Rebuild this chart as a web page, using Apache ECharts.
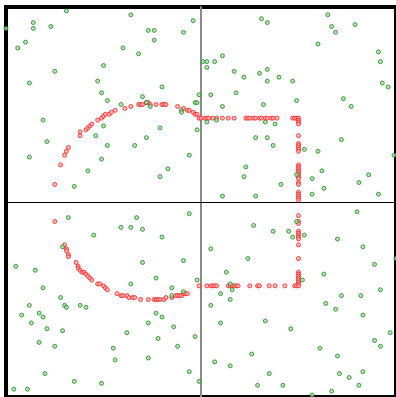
<!DOCTYPE html>
<html>
<head>
<meta charset="utf-8">
<script src="https://cdn.jsdelivr.net/npm/echarts@6/dist/echarts.min.js"></script>
<style>
  html, body { margin: 0; padding: 0; background: #ffffff; }
  #chart { width: 396px; height: 397px; }
</style>
</head>
<body>
<div id="chart"></div>
<script>
// Scattered background samples (green class)
const greenPoints = [
  [-0.69,0.98],[-0.36,0.96],[-1.00,0.89],[-0.86,0.92],[-0.86,0.89],[-0.77,0.90],[-0.04,0.93],
  [-0.27,0.88],[-0.24,0.88],[-0.09,0.87],[-0.90,0.82],[-0.94,0.79],[-0.24,0.83],[-0.40,0.79],
  [-0.32,0.76],[-0.75,0.67],[-0.50,0.70],[-0.88,0.61],[-0.53,0.62],[-0.20,0.59],[-0.51,0.56],
  [-0.48,0.52],[-0.30,0.54],[-0.28,0.51],[-0.41,0.50],[-0.26,0.49],[-0.03,0.51],[-0.02,0.51],
  [-0.10,0.47],[-0.10,0.46],[-0.81,0.42],[-0.50,0.39],[-0.21,0.38],[-0.02,0.37],[-0.79,0.31],
  [-0.54,0.34],[-0.28,0.33],[-0.48,0.29],[-0.34,0.29],[-0.88,0.23],[-0.06,0.24],[-0.51,0.22],
  [-0.17,0.17],[-0.58,0.16],[-0.21,0.13],[-0.65,0.08],
  [0.31,0.94],[0.34,0.92],[0.65,0.96],[0.79,0.91],[0.67,0.90],[0.69,0.87],[0.60,0.81],
  [0.11,0.75],[0.01,0.72],[0.03,0.72],[0.07,0.72],[0.03,0.69],[0.91,0.77],[0.92,0.72],
  [0.17,0.67],[0.30,0.66],[0.34,0.68],[0.34,0.62],[0.22,0.64],[0.40,0.64],[0.47,0.62],
  [0.93,0.61],[0.96,0.59],[-0.01,0.55],[0.05,0.55],[0.18,0.56],[0.11,0.49],[0.32,0.50],
  [0.49,0.52],[0.73,0.53],[0.77,0.49],[0.03,0.41],[0.08,0.42],[0.33,0.41],[0.38,0.40],
  [0.28,0.33],[0.34,0.33],[0.37,0.29],[0.72,0.32],[0.53,0.27],[0.60,0.26],[0.99,0.24],
  [0.23,0.18],[0.22,0.13],[0.62,0.16],[0.86,0.14],[0.57,0.12],[0.41,0.09],[0.49,0.14],
  [0.63,0.07],[0.81,0.10],[0.11,0.03],[0.28,0.03],[0.57,0.04],[0.91,0.04],
  [0.80,-0.05],[0.27,-0.12],[0.37,-0.15],[0.45,-0.15],[0.49,-0.10],[0.47,-0.18],[0.53,-0.17],
  [0.70,-0.19],[0.83,-0.23],[0.05,-0.24],[0.24,-0.29],[0.89,-0.32],[1.00,-0.29],[0.13,-0.36],
  [-0.02,-0.40],[0.63,-0.37],[0.52,-0.40],[0.15,-0.42],[0.16,-0.45],[0.92,-0.45],[0.10,-0.47],
  [0.72,-0.48],[0.82,-0.48],[0.15,-0.50],[0.05,-0.53],[0.64,-0.52],[0.69,-0.55],[0.83,-0.58],
  [0.10,-0.62],[0.33,-0.61],[0.46,-0.65],[0.97,-0.67],[-0.03,-0.69],[0.89,-0.71],[0.92,-0.74],
  [0.26,-0.78],[0.61,-0.75],[0.70,-0.79],[0.07,-0.82],[0.15,-0.84],[0.83,-0.87],[0.71,-0.88],
  [0.35,-0.88],[0.76,-0.90],[-0.01,-0.92],[0.29,-0.94],[0.42,-0.94],[0.81,-0.94],[0.67,-0.97],
  [0.57,-0.99],
  [-0.06,-0.06],[-0.68,-0.08],[-0.33,-0.08],[-0.41,-0.13],[-0.36,-0.13],[-0.30,-0.14],[-0.20,-0.18],
  [-0.55,-0.17],[-0.71,-0.23],[-0.95,-0.33],[-0.85,-0.35],[-0.30,-0.31],[-0.09,-0.30],[-0.23,-0.39],
  [-0.81,-0.44],[-0.36,-0.42],[-0.15,-0.44],[-0.15,-0.48],[-0.09,-0.46],[-0.72,-0.49],[-0.70,-0.53],
  [-0.69,-0.54],[-0.62,-0.53],[-0.59,-0.54],[-0.88,-0.53],[-0.92,-0.58],[-0.83,-0.57],[-0.81,-0.59],
  [-0.87,-0.62],[-0.23,-0.57],[-0.20,-0.59],[-0.27,-0.62],[-0.79,-0.65],[-0.71,-0.66],[-0.38,-0.67],
  [-0.14,-0.64],[-0.83,-0.72],[-0.75,-0.74],[-0.22,-0.70],[-0.12,-0.74],[-0.45,-0.75],[-0.44,-0.81],
  [-0.27,-0.80],[-0.06,-0.87],[-0.80,-0.88],[-0.65,-0.92],[-0.51,-0.93],[-0.96,-0.96],[-0.89,-0.96]
];

// Red class: upper arc on the left
const redUpperArc = [
  [-0.75,0.09],[-0.72,0.19],[-0.70,0.24],[-0.69,0.26],[-0.68,0.28],[-0.62,0.34],[-0.62,0.36],
  [-0.59,0.37],[-0.58,0.38],[-0.57,0.39],[-0.56,0.40],[-0.53,0.42],[-0.51,0.43],[-0.50,0.44],
  [-0.49,0.45],[-0.47,0.45],[-0.46,0.46],[-0.44,0.47],[-0.39,0.48],[-0.36,0.49],[-0.32,0.50],
  [-0.31,0.50],[-0.30,0.50],[-0.28,0.51],[-0.27,0.51],[-0.26,0.50],[-0.23,0.50],[-0.20,0.50],
  [-0.19,0.50],[-0.18,0.50],[-0.12,0.49],[-0.09,0.48],[-0.07,0.47],[-0.06,0.47],[-0.04,0.46],
  [-0.03,0.45],[-0.02,0.45],[-0.01,0.43]
];

// Red class: lower arc on the left
const redLowerArc = [
  [-0.75,-0.10],[-0.70,-0.22],[-0.69,-0.24],[-0.69,-0.25],[-0.68,-0.27],[-0.68,-0.28],[-0.64,-0.31],
  [-0.63,-0.33],[-0.63,-0.34],[-0.62,-0.35],[-0.61,-0.36],[-0.60,-0.36],[-0.59,-0.37],[-0.58,-0.38],
  [-0.57,-0.39],[-0.56,-0.40],[-0.53,-0.42],[-0.52,-0.42],[-0.50,-0.43],[-0.49,-0.44],[-0.48,-0.45],
  [-0.43,-0.47],[-0.41,-0.48],[-0.40,-0.48],[-0.38,-0.48],[-0.37,-0.49],[-0.35,-0.49],[-0.34,-0.49],
  [-0.31,-0.50],[-0.27,-0.50],[-0.24,-0.50],[-0.23,-0.50],[-0.22,-0.50],[-0.21,-0.50],[-0.19,-0.50],
  [-0.18,-0.49],[-0.15,-0.49],[-0.13,-0.48],[-0.12,-0.48],[-0.11,-0.48],[-0.10,-0.48],[-0.09,-0.47],
  [-0.08,-0.47],[-0.07,-0.47]
];

// Red class: upper horizontal run on the right
const redUpperRow = [
  [0.00,0.43],[0.02,0.43],[0.03,0.43],[0.04,0.43],[0.06,0.43],[0.08,0.43],[0.11,0.43],[0.14,0.43],
  [0.17,0.43],[0.23,0.43],[0.24,0.43],[0.25,0.43],[0.27,0.43],[0.28,0.43],[0.30,0.43],[0.31,0.43],
  [0.33,0.43],[0.34,0.43],[0.36,0.43],[0.37,0.43],[0.39,0.43],[0.47,0.43],[0.48,0.43],[0.49,0.43],
  [0.50,0.43]
];

// Red class: vertical run
const redColumn = [
  [0.50,0.42],[0.50,0.41],[0.50,0.40],[0.50,0.34],[0.50,0.30],[0.50,0.29],[0.50,0.28],[0.50,0.27],
  [0.50,0.26],[0.50,0.19],[0.50,0.18],[0.50,0.17],[0.50,0.16],[0.50,0.15],[0.50,0.14],[0.50,0.13],
  [0.50,0.12],[0.50,0.10],[0.50,0.09],[0.50,0.05],[0.50,0.04],[0.50,0.03],[0.50,0.02],[0.50,0.01],
  [0.50,-0.07],[0.50,-0.10],[0.50,-0.11],[0.50,-0.15],[0.50,-0.16],[0.50,-0.17],[0.50,-0.18],
  [0.50,-0.19],[0.50,-0.22],[0.50,-0.29],[0.50,-0.36],[0.50,-0.37],[0.50,-0.38],[0.50,-0.39],
  [0.50,-0.40],[0.50,-0.41],[0.50,-0.42]
];

// Red class: lower horizontal run
const redLowerRow = [
  [-0.01,-0.43],[0.03,-0.43],[0.05,-0.43],[0.06,-0.43],[0.07,-0.43],[0.08,-0.43],[0.14,-0.43],
  [0.15,-0.43],[0.16,-0.43],[0.17,-0.43],[0.18,-0.43],[0.19,-0.43],[0.25,-0.43],[0.29,-0.43],
  [0.30,-0.43],[0.35,-0.43],[0.38,-0.43],[0.43,-0.43],[0.48,-0.43],[0.49,-0.43],[0.50,-0.43]
];

const redPoints = [].concat(redUpperArc, redUpperRow, redColumn, redLowerRow, redLowerArc);

const chart = echarts.init(document.getElementById('chart'), null, { renderer: 'canvas' });

const hiddenParts = {
  axisTick: { show: false },
  axisLabel: { show: false },
  splitLine: { show: false }
};

chart.setOption({
  animation: false,
  backgroundColor: '#ffffff',
  grid: {
    show: true,
    left: 6, top: 7, width: 390, height: 390,
    borderColor: '#000000',
    borderWidth: 4,
    backgroundColor: 'transparent'
  },
  xAxis: Object.assign({
    type: 'value', min: -1, max: 1,
    axisLine: { show: true, onZero: true, lineStyle: { color: '#000000', width: 1 } }
  }, hiddenParts),
  yAxis: Object.assign({
    type: 'value', min: -1, max: 1,
    axisLine: { show: true, onZero: true, lineStyle: { color: '#8a8a8a', width: 2 } }
  }, hiddenParts),
  series: [
    {
      name: 'red', type: 'scatter', data: redPoints,
      symbol: 'circle', symbolSize: 4,
      itemStyle: { color: '#ffb0b0', borderColor: '#ff1a1a', borderWidth: 1 },
      emphasis: { disabled: true }
    },
    {
      name: 'green', type: 'scatter', data: greenPoints,
      symbol: 'circle', symbolSize: 4,
      itemStyle: { color: '#a8d8a8', borderColor: '#1e8a1e', borderWidth: 1 },
      emphasis: { disabled: true }
    }
  ]
});
</script>
</body>
</html>
